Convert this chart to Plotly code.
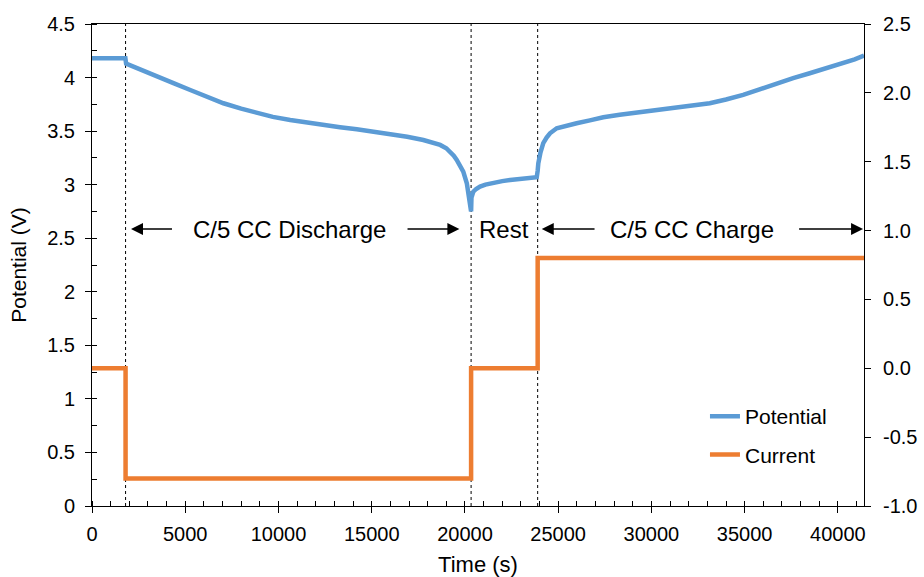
import plotly.graph_objects as go

# Potential (V) vs time (s)
pot_time = [0, 1000, 1790, 1830, 2500, 3000, 3480, 4400, 5270, 6200, 7050, 8000, 8840,
            9700, 10630, 11500, 12410, 13300, 14200, 15100, 15990, 16900, 17770, 18250,
            18670, 19000, 19200, 19400, 19560, 19750, 19910, 20100, 20250, 20330,
            20350, 20450, 20600, 20810, 21100, 21520, 22000, 22420, 23100, 23850,
            23900, 23935, 24050, 24200, 24380, 24560, 24920, 25400, 25990, 26700, 27420,
            28300, 29200, 30300, 31350, 32250, 33130, 34000, 34920, 35800, 36710, 37600,
            38490, 39400, 40280, 40900, 41400]
pot_volt = [4.18, 4.18, 4.18, 4.13, 4.08, 4.04, 4.01, 3.945, 3.884, 3.82, 3.76, 3.71, 3.667,
            3.633, 3.604, 3.58, 3.557, 3.537, 3.517, 3.496, 3.473, 3.447, 3.417, 3.395,
            3.371, 3.34, 3.308, 3.27, 3.231, 3.18, 3.121, 3.013, 2.87, 2.75,
            2.88, 2.935, 2.96, 2.982, 3.0, 3.019, 3.033, 3.044, 3.058, 3.069,
            3.13, 3.20, 3.30, 3.387, 3.44, 3.48, 3.527, 3.55, 3.573, 3.60, 3.629,
            3.652, 3.672, 3.692, 3.713, 3.735, 3.76, 3.795, 3.838, 3.89, 3.947, 3.995,
            4.04, 4.088, 4.133, 4.17, 4.205]

# Current (A) step profile
cur_time = [0, 1800, 20330, 23900, 41400]
cur_amp = [0.0, -0.8, 0.0, 0.8, 0.8]

# Phase boundaries (s) and labels
phase_boundaries = [1800, 20330, 23900]
phase_labels = ["C/5 CC Discharge", "Rest", "C/5 CC Charge"]

# Axis tick labels
x_ticks = [0, 5000, 10000, 15000, 20000, 25000, 30000, 35000, 40000]
y2_ticks = [-1.0, -0.5, 0.0, 0.5, 1.0, 1.5, 2.0, 2.5]
y2_labels = ["-1.0", "-0.5", "0.0", "0.5", "1.0", "1.5", "2.0", "2.5"]

FONT = "Liberation Sans, Arial, sans-serif"
BLUE = "#5B9BD5"
ORANGE = "#ED7D31"
XR = [0, 41400]
YR = [0, 4.5]

fig = go.Figure()
fig.add_trace(go.Scatter(x=pot_time, y=pot_volt, mode="lines", name="Potential",
                         line=dict(color=BLUE, width=4.5), legendgroup="a"))
fig.add_trace(go.Scatter(x=cur_time, y=cur_amp, mode="lines", name="Current",
                         line=dict(color=ORANGE, width=4.5, shape="hv"),
                         yaxis="y2", legendgroup="b"))

for xb in phase_boundaries:
    fig.add_shape(type="line", x0=xb, x1=xb, y0=0, y1=1, xref="x", yref="paper",
                  line=dict(color="black", width=1, dash="dot"), layer="below")

ya = 2.586
centers = [10600, 22100, 32150]
for lab, cx in zip(phase_labels, centers):
    fig.add_annotation(x=cx, y=ya, text=lab, showarrow=False,
                       font=dict(family=FONT, size=24, color="black"))

arrows = [(2090, 4370), (19700, 16840), (24120, 27030), (41350, 37840)]
for head, tail in arrows:
    fig.add_annotation(x=head, y=ya, ax=tail, ay=ya, xref="x", yref="y",
                       axref="x", ayref="y", text="", showarrow=True,
                       arrowhead=2, arrowsize=1.5, arrowwidth=1.6, arrowcolor="black")

fig.update_layout(
    width=924, height=577,
    margin=dict(l=92, r=60, t=24, b=71, autoexpand=False),
    paper_bgcolor="white", plot_bgcolor="white",
    font=dict(family=FONT, size=20, color="black"),
    showlegend=True,
    legend=dict(x=0.794, y=0.146, xanchor="left", yanchor="middle",
                bgcolor="rgba(0,0,0,0)", font=dict(size=21), tracegroupgap=8),
    xaxis=dict(range=XR, tickvals=x_ticks, tickformat="d", showline=True,
               linecolor="black", linewidth=1, mirror=True, ticks="outside", ticklen=6,
               tickwidth=1, tickcolor="black", showgrid=False, zeroline=False,
               ticklabelstandoff=4, automargin=False,
               minor=dict(tickmode="linear", tick0=0, dtick=1000, ticks="inside",
                          ticklen=5, tickwidth=1, tickcolor="black", showgrid=False),
               title=dict(text="Time (s)", font=dict(size=22), standoff=14)),
    yaxis=dict(range=YR, tickmode="linear", tick0=0, dtick=0.5, showline=True,
               linecolor="black", linewidth=1, ticks="outside", ticklen=6, tickwidth=1,
               tickcolor="black", showgrid=False, zeroline=False,
               ticklabelstandoff=6, automargin=False,
               minor=dict(tickmode="linear", tick0=0, dtick=0.25, ticks="inside",
                          ticklen=5, tickwidth=1, tickcolor="black", showgrid=False),
               title=dict(text="Potential (V)", font=dict(size=21), standoff=14)),
    yaxis2=dict(range=[-1.0, 2.5], tickvals=y2_ticks, ticktext=y2_labels, overlaying="y",
                side="right", showline=True, linecolor="black", linewidth=1, ticks="outside",
                ticklen=6, tickwidth=1, tickcolor="black", showgrid=False, zeroline=False,
                ticklabelstandoff=8, automargin=False),
)

fig.write_html("out.html")
